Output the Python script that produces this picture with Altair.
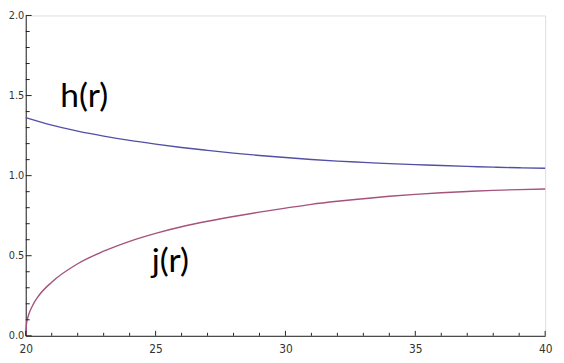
import altair as alt
import pandas as pd

# values
r_h = [20, 21, 22, 23, 24, 25, 26, 27, 28, 29, 30, 31, 32, 33, 34, 35, 36, 37, 38, 39, 40]
h_vals = [1.362, 1.315, 1.278, 1.247, 1.220, 1.197, 1.176, 1.158, 1.141, 1.126, 1.113,
          1.101, 1.091, 1.083, 1.075, 1.069, 1.063, 1.058, 1.053, 1.049, 1.046]
r_j = [20, 20.03, 20.1, 20.25, 20.5, 21, 22, 23, 24, 25, 26, 27, 28, 29, 30,
       31, 32, 33, 34, 35, 36, 37, 38, 39, 40]
j_vals = [0.0, 0.075, 0.125, 0.185, 0.250, 0.335, 0.450, 0.528, 0.590, 0.640, 0.681,
          0.715, 0.745, 0.772, 0.797, 0.821, 0.840, 0.856, 0.871, 0.883, 0.893,
          0.901, 0.908, 0.913, 0.917]

x_major = [20, 25, 30, 35, 40]
x_minor = [21, 22, 23, 24, 26, 27, 28, 29, 31, 32, 33, 34, 36, 37, 38, 39]
y_major = [0.0, 0.5, 1.0, 1.5, 2.0]
y_minor = [0.1, 0.2, 0.3, 0.4, 0.6, 0.7, 0.8, 0.9, 1.1, 1.2, 1.3, 1.4, 1.6, 1.7, 1.8, 1.9]

label_text = ["h(r)", "j(r)"]
label_r = [21.33, 24.85]
label_v = [1.43, 0.40]

W, H = 527, 325

curves = pd.concat([
    pd.DataFrame({"r": r_h, "v": h_vals, "s": "h"}),
    pd.DataFrame({"r": r_j, "v": j_vals, "s": "j"}),
])

xs = alt.Scale(domain=[20, 40], nice=False, zero=False)
ys = alt.Scale(domain=[0, 2], nice=False)

base_x_axis = alt.Axis(values=x_major, format="d", title=None, grid=False, ticks=False,
                       labelPadding=8, labelFontSize=12, labelFont="DejaVu Sans Condensed",
                       labelColor="#333333", domainColor="#222222", labelFlush=False)
base_y_axis = alt.Axis(values=y_major, format=".1f", title=None, grid=False, ticks=False,
                       labelPadding=2, labelFontSize=11, labelFont="DejaVu Sans Condensed",
                       labelColor="#333333", domainColor="#222222", labelFlush=False)

lines = alt.Chart(curves).mark_line(strokeWidth=1.4, interpolate="monotone").encode(
    x=alt.X("r:Q", scale=xs, axis=base_x_axis),
    y=alt.Y("v:Q", scale=ys, axis=base_y_axis),
    color=alt.Color("s:N", scale=alt.Scale(domain=["h", "j"], range=["#5150a6", "#a5527c"]),
                    legend=None),
    detail="s:N",
)

xmaj = alt.Chart(pd.DataFrame({"r": x_major})).mark_rule(color="#222222").encode(
    x=alt.X("r:Q", scale=xs), y=alt.value(H), y2=alt.value(H - 5))
xmin = alt.Chart(pd.DataFrame({"r": x_minor})).mark_rule(color="#222222").encode(
    x=alt.X("r:Q", scale=xs), y=alt.value(H), y2=alt.value(H - 3))
ymaj = alt.Chart(pd.DataFrame({"v": y_major})).mark_rule(color="#222222").encode(
    y=alt.Y("v:Q", scale=ys), x=alt.value(0), x2=alt.value(6))
ymin = alt.Chart(pd.DataFrame({"v": y_minor})).mark_rule(color="#222222").encode(
    y=alt.Y("v:Q", scale=ys), x=alt.value(0), x2=alt.value(4))

labels = alt.Chart(pd.DataFrame({"r": label_r, "v": label_v, "t": label_text})).mark_text(
    font="Lato", fontSize=34, align="left", baseline="alphabetic", color="#000000"
).encode(x=alt.X("r:Q", scale=xs), y=alt.Y("v:Q", scale=ys), text="t:N")

chart = alt.layer(lines, xmaj, xmin, ymaj, ymin, labels).properties(
    width=W, height=H,
    autosize=alt.AutoSizeParams(type="none"),
    padding={"left": 18, "top": 5, "right": 11, "bottom": 25},
).configure_view(stroke=None).configure(background="white")

chart.save("out.html", embed_options={"renderer": "svg", "actions": False})
